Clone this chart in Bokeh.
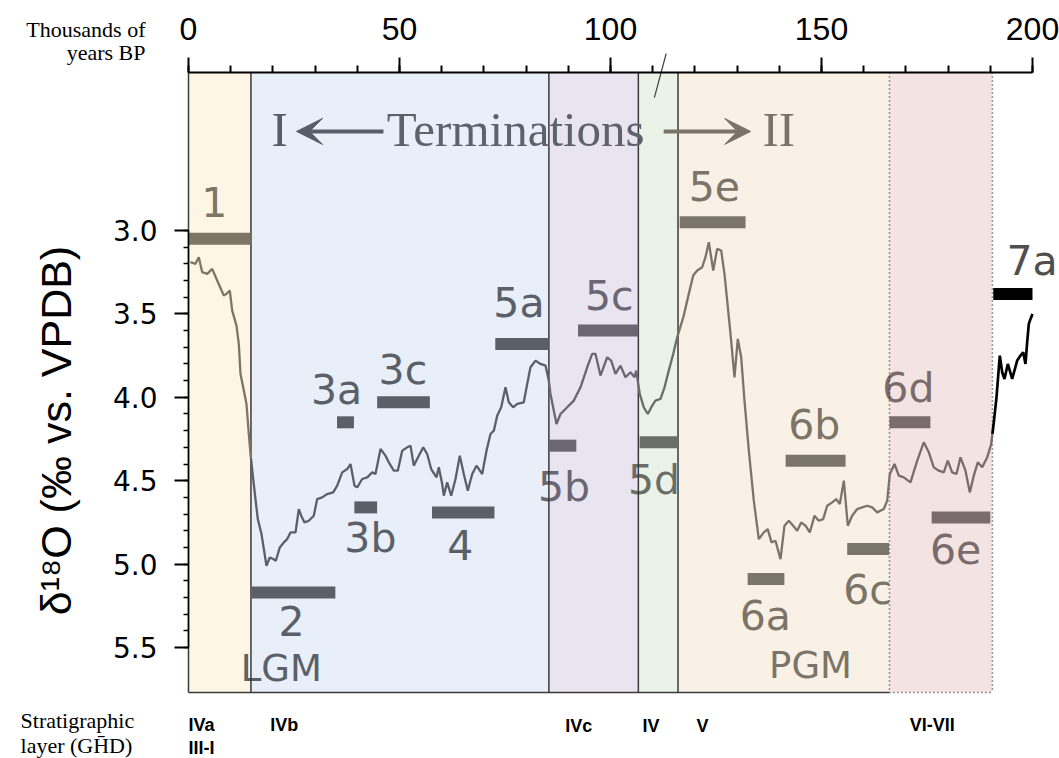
import numpy as np
from bokeh.plotting import figure
from bokeh.models import (Range1d, FixedTicker, PrintfTickFormatter, Label, Arrow, VeeHead,
                          LinearAxis)
from bokeh.core.properties import value
from bokeh.embed import file_html
from bokeh.resources import INLINE

# ---------------- data ----------------
# benthic d18O record (age in ka BP, d18O permil vs VPDB)
age_ka = [0.47, 1.66, 2.44, 3.25, 4.43, 5.62, 6.80, 8.36, 9.00, 9.79,
          10.36, 11.37, 11.92, 12.32, 12.96, 13.74, 14.29, 14.69, 15.64, 16.42,
          17.30, 18.48, 19.27, 20.07, 20.69, 21.64, 22.58, 23.39, 24.17, 25.36,
          26.14, 26.71, 27.49, 28.51, 29.69, 30.50, 31.68, 32.87, 34.29, 35.24,
          36.42, 37.61, 38.39, 39.34, 39.98, 41.16, 42.35, 43.53, 44.31, 45.50,
          46.68, 47.46, 48.65, 49.60, 50.64, 51.82, 52.61, 53.39, 54.57, 55.62,
          56.56, 57.51, 58.77, 59.31, 60.12, 60.50, 61.30, 62.25, 63.27, 64.29,
          65.24, 66.18, 67.23, 68.25, 69.60, 70.62, 71.56, 72.35, 73.15, 74.10,
          75.12, 75.90, 76.94, 77.89, 79.45, 80.26, 81.04, 82.23, 83.41, 84.60,
          85.38, 85.78, 87.20, 88.15, 89.74, 91.30, 92.89, 94.48, 95.66, 96.45,
          97.63, 99.22, 100.17, 101.18, 102.37, 103.55, 104.74, 105.69, 106.09, 106.94,
          107.89, 108.84, 109.88, 110.66, 111.85, 112.80, 113.81, 114.86, 115.81, 117.37,
          118.55, 119.60, 120.55, 121.73, 122.51, 123.30, 124.34, 125.28, 126.23, 127.01,
          127.65, 128.44, 129.38, 130.17, 130.97, 131.75, 132.78, 133.96, 135.14, 136.33,
          137.27, 138.15, 139.10, 140.28, 141.23, 142.25, 143.29, 144.24, 145.19, 146.21,
          147.23, 148.34, 149.36, 150.40, 151.35, 152.54, 153.48, 154.34, 155.29, 156.24,
          157.27, 158.46, 159.64, 160.83, 162.01, 163.20, 164.76, 165.57, 166.19, 167.30,
          168.32, 169.50, 171.09, 172.68, 174.24, 175.43, 176.61, 177.80, 178.98, 179.93,
          180.97, 181.99, 182.94, 184.12, 185.14, 186.09, 187.04, 188.08, 189.27, 190.21,
          190.83, 191.47, 192.25, 192.82, 193.36, 194.15, 195.19, 196.37, 197.16, 197.80,
          198.34, 198.74, 199.13, 199.53, 200.0]
d18o_permil = [3.19, 3.20, 3.16, 3.25, 3.26, 3.23, 3.30, 3.39, 3.38, 3.36,
               3.48, 3.57, 3.68, 3.86, 3.94, 4.04, 4.22, 4.34, 4.56, 4.73,
               4.82, 5.01, 4.96, 4.97, 4.98, 4.90, 4.87, 4.85, 4.81, 4.81,
               4.67, 4.71, 4.75, 4.74, 4.71, 4.61, 4.60, 4.58, 4.57, 4.53,
               4.45, 4.43, 4.40, 4.53, 4.54, 4.49, 4.48, 4.45, 4.46, 4.31,
               4.35, 4.39, 4.44, 4.44, 4.32, 4.30, 4.29, 4.41, 4.35, 4.30,
               4.34, 4.43, 4.48, 4.42, 4.52, 4.59, 4.51, 4.59, 4.49, 4.35,
               4.46, 4.56, 4.46, 4.41, 4.46, 4.32, 4.22, 4.20, 4.11, 4.06,
               3.94, 4.03, 4.06, 4.04, 4.03, 3.92, 3.82, 3.78, 3.80, 3.81,
               3.90, 3.98, 4.16, 4.10, 4.06, 4.02, 3.94, 3.82, 3.74, 3.74,
               3.87, 3.76, 3.78, 3.86, 3.81, 3.88, 3.85, 3.88, 3.84, 3.98,
               4.06, 4.10, 4.05, 4.02, 4.01, 3.94, 3.84, 3.74, 3.64, 3.51,
               3.38, 3.27, 3.24, 3.22, 3.16, 3.07, 3.24, 3.11, 3.12, 3.26,
               3.42, 3.62, 3.88, 3.65, 3.76, 4.02, 4.32, 4.62, 4.85, 4.81,
               4.79, 4.87, 4.86, 4.97, 4.77, 4.74, 4.77, 4.80, 4.75, 4.77,
               4.81, 4.71, 4.74, 4.73, 4.65, 4.63, 4.61, 4.64, 4.50, 4.77,
               4.71, 4.67, 4.66, 4.65, 4.66, 4.69, 4.67, 4.62, 4.46, 4.40,
               4.47, 4.48, 4.51, 4.38, 4.27, 4.33, 4.42, 4.44, 4.45, 4.38,
               4.45, 4.46, 4.36, 4.44, 4.57, 4.47, 4.39, 4.42, 4.36, 4.28,
               4.15, 4.00, 3.75, 3.85, 3.89, 3.80, 3.89, 3.78, 3.75, 3.73,
               3.80, 3.67, 3.56, 3.53, 3.50]

# marine isotope (sub)stages: time span and reference d18O level
stage_names = ["1", "2", "3a", "3b", "3c", "4", "5a", "5b", "5c", "5d",
               "5e", "6a", "6b", "6c", "6d", "6e", "7a"]
stage_start_ka = [0.0, 14.85, 35.2, 39.3, 44.7, 57.7, 72.7, 85.4, 92.3, 106.9,
                  116.4, 132.5, 141.5, 156.1, 166.1, 176.1, 190.7]
stage_end_ka = [14.7, 34.8, 39.2, 44.7, 57.2, 72.5, 85.4, 91.9, 106.6, 115.8,
                132.0, 141.2, 155.7, 166.0, 175.8, 190.0, 200.0]
stage_d18o = [3.05, 5.17, 4.15, 4.66, 4.03, 4.69, 3.68, 4.29, 3.60, 4.27,
              2.95, 5.09, 4.38, 4.91, 4.15, 4.72, 3.38]

# stratigraphic layers (GHD) as shaded time intervals
layer_start_ka = [0.0, 14.8, 85.4, 106.6, 116.0, 166.1]
layer_end_ka = [14.8, 85.4, 106.6, 116.0, 166.1, 190.5]
layer_names = ["IVa", "III-I", "IVb", "IVc", "IV", "V", "VI-VII"]

age_ticks = [0, 50, 100, 150, 200]
d18o_ticks = [3.0, 3.5, 4.0, 4.5, 5.0, 5.5]

# ---------------- styling / placement ----------------
band_fill = ["#fef6e4", "#e8eff8", "#e8e4f0", "#ebf2e8", "#f9f1e6", "#f3e3e3"]
band_ink = ["#7d7565", "#5b6068", "#6a6672", "#6a6e68", "#7b7468", "#7a6b6c"]
band_edge_dash = ["solid", "solid", "solid", "solid", "solid", "1 3", "1 3"]

# label anchors (text centre)
stage_label_x = [6.1, 24.4, 35.1, 43.1, 50.8, 64.4, 78.3, 89.0, 99.7, 110.3,
                 124.6, 136.7, 148.3, 160.9, 170.6, 181.8, 199.9]
stage_label_y = [2.829, 5.341, 3.959, 4.843, 3.839, 4.887, 3.435, 4.535, 3.395, 4.493,
                 2.735, 5.311, 4.169, 5.158, 3.947, 4.912, 3.185]

glacial_names = ["LGM", "PGM"]
glacial_x = [22.0, 147.4]
glacial_y = [5.623, 5.608]
glacial_band = [1, 4]

layer_label_x = [0.0, 0.0, 19.4, 89.3, 107.6, 120.4, 170.9]
layer_label_y = [5.965, 6.100, 5.965, 5.971, 5.971, 5.971, 5.962]

# plotting area spans the whole canvas; axes sit at fixed positions inside it
X_MIN, X_MAX = -44.55, 206.40
Y_CANVAS_TOP, Y_CANVAS_BOT = 1.6211, 6.1655
Y_TOP = 2.053       # upper edge of the record panel (age axis)
FRAME_BOT = 5.770   # lower edge of the record panel

p = figure(width=1059, height=758,
           x_range=Range1d(X_MIN, X_MAX), y_range=Range1d(Y_CANVAS_BOT, Y_CANVAS_TOP),
           x_axis_location=None, y_axis_location=None,
           output_backend="svg", toolbar_location=None,
           min_border_left=0, min_border_right=0, min_border_top=0, min_border_bottom=0)
p.outline_line_color = None
p.grid.visible = False
p.background_fill_color = "white"
p.border_fill_color = "white"

# top age axis
xa = LinearAxis(fixed_location=Y_TOP)
xa.ticker = FixedTicker(ticks=age_ticks, minor_ticks=list(range(0, 201, 10)))
xa.bounds = (0, 200)
xa.axis_line_color = "black"
xa.axis_line_width = 2
xa.major_tick_line_color = "black"
xa.major_tick_line_width = 2
xa.major_tick_out = 15
xa.major_tick_in = 0
xa.minor_tick_line_color = "black"
xa.minor_tick_line_width = 2
xa.minor_tick_out = 7
xa.minor_tick_in = 0
xa.major_label_text_font = "Liberation Sans"
xa.major_label_text_font_size = "32px"
xa.major_label_text_color = "black"
xa.major_label_standoff = 18

# left d18O axis
ya = LinearAxis(fixed_location=0)
ya.ticker = FixedTicker(ticks=d18o_ticks,
                        minor_ticks=[round(3.0 + 0.1 * i, 1) for i in range(26)])
ya.bounds = (3.0, 5.5)
ya.formatter = PrintfTickFormatter(format="%.1f")
ya.axis_line_color = "black"
ya.axis_line_width = 1.5
ya.major_tick_line_color = "black"
ya.major_tick_line_width = 2
ya.major_tick_out = 14
ya.major_tick_in = 0
ya.minor_tick_line_color = "black"
ya.minor_tick_line_width = 1.5
ya.minor_tick_out = 5
ya.minor_tick_in = 0
ya.major_label_text_font = "DejaVu Sans"
ya.major_label_text_font_size = "28px"
ya.major_label_text_color = "black"
ya.major_label_standoff = 17

LABEL_FONT = value("DejaVu Sans")


def band_of(t):
    for i, (a, b) in enumerate(zip(layer_start_ka, layer_end_ka)):
        if a <= t < b:
            return i
    return len(layer_start_ka)


stage_mid = [(a + b) / 2 for a, b in zip(stage_start_ka, stage_end_ka)]
stage_band = [band_of(m) for m in stage_mid]
stage_color = [band_ink[b] if b < len(band_ink) else "#000000" for b in stage_band]
stage_text_color = [band_ink[b] if b < len(band_ink) else "#4f4f4f" for b in stage_band]


def stage_text(idx):
    if not idx:
        return
    p.text(x=[stage_label_x[k] for k in idx], y=[stage_label_y[k] for k in idx],
           text=[stage_names[k] for k in idx], text_font=LABEL_FONT,
           text_font_size=value("41px"), text_color=[stage_text_color[k] for k in idx],
           text_align="center", text_baseline="middle")


# shaded layers, each followed by the stage names that sit in it
for i in range(len(layer_start_ka)):
    p.quad(left=[layer_start_ka[i]], right=[layer_end_ka[i]], top=[Y_TOP], bottom=[FRAME_BOT],
           fill_color=band_fill[i], line_color=None)
    stage_text([k for k, b in enumerate(stage_band) if b == i])
    for g, gb in enumerate(glacial_band):
        if gb == i:
            p.text(x=[glacial_x[g]], y=[glacial_y[g]], text=[glacial_names[g]],
                   text_font=LABEL_FONT, text_font_size=value("37px"),
                   text_color=band_ink[i], text_align="center", text_baseline="middle")
stage_text([k for k, b in enumerate(stage_band) if b >= len(layer_start_ka)])

# layer boundaries
edges = [layer_start_ka[0]] + layer_end_ka
for e, dash in zip(edges, band_edge_dash):
    p.segment(x0=[e], y0=[Y_TOP], x1=[e], y1=[FRAME_BOT], line_color="#3a3a3a",
              line_width=1.5, line_dash=dash)
p.segment(x0=[layer_start_ka[0]], y0=[FRAME_BOT], x1=[layer_start_ka[-1]], y1=[FRAME_BOT],
          line_color="#3a3a3a", line_width=1.5)
p.segment(x0=[layer_start_ka[-1]], y0=[FRAME_BOT], x1=[layer_end_ka[-1]], y1=[FRAME_BOT],
          line_color="#3a3a3a", line_width=1.5, line_dash="1 3")

# stage reference bars
p.segment(x0=stage_start_ka, y0=stage_d18o, x1=stage_end_ka, y1=stage_d18o,
          line_color=stage_color, line_width=12, line_cap="butt")

# d18O curve, coloured by the layer it passes through
age = np.array(age_ka)
d18o = np.array(d18o_permil)
cuts = edges + [age[-1]]
seg_colors = band_ink + ["#000000"]
for k in range(len(cuts) - 1):
    a, b = max(cuts[k], age[0]), min(cuts[k + 1], age[-1])
    inside = (age > a) & (age < b)
    xs = [a] + list(age[inside]) + [b]
    ys = [float(np.interp(a, age, d18o))] + list(d18o[inside]) + [float(np.interp(b, age, d18o))]
    p.line(xs, ys, line_color=seg_colors[k], line_width=2.7 if k == len(cuts) - 2 else 2.3)

# axes go on top of the shading
p.add_layout(xa, "above")
p.add_layout(ya, "left")

# axis break mark
p.segment(x0=[110.4], y0=[2.203], x1=[113.2], y1=[1.939], line_color="#404040", line_width=1.2)

# terminations
term_y = 2.406
p.add_layout(Arrow(end=VeeHead(size=26, fill_color="#585e67", line_color="#585e67"),
                   x_start=46.2, y_start=term_y, x_end=25.6, y_end=term_y,
                   line_color="#585e67", line_width=4))
p.add_layout(Arrow(end=VeeHead(size=26, fill_color="#7a7468", line_color="#7a7468"),
                   x_start=112.6, y_start=term_y, x_end=133.2, y_end=term_y,
                   line_color="#7a7468", line_width=4))
for txt, x, align, col in [("I", 21.6, "center", "#585e67"),
                           ("Terminations", 47.0, "left", "#5e626b"),
                           ("II", 136.0, "left", "#7a7468")]:
    p.add_layout(Label(x=x, y=2.394, text=txt, text_font="Liberation Serif",
                       text_font_size="49px", text_color=col, text_align=align,
                       text_baseline="middle"))

# d18O axis title
p.add_layout(Label(x=-31.5, y=4.199, text="δ¹⁸O (‰ vs. VPDB)", angle=np.pi / 2,
                   text_font="Liberation Sans", text_font_size="43px", text_color="black",
                   text_align="center", text_baseline="middle"))

# side captions
for txt, y in [("Thousands of", 1.797), ("years BP", 1.935)]:
    p.add_layout(Label(x=-10.2, y=y, text=txt, text_font="Liberation Serif",
                       text_font_size="22px", text_color="black", text_align="right",
                       text_baseline="middle"))
for txt, y in [("Stratigraphic", 5.938), ("layer (GH\u0304D)", 6.088)]:
    p.add_layout(Label(x=-39.8, y=y, text=txt, text_font="Liberation Serif",
                       text_font_size="22px", text_color="black", text_align="left",
                       text_baseline="middle"))
for txt, x, y in zip(layer_names, layer_label_x, layer_label_y):
    p.add_layout(Label(x=x, y=y, text=txt, text_font="Liberation Sans",
                       text_font_size="18px", text_font_style="bold", text_color="black",
                       text_align="left", text_baseline="middle"))

open("out.html", "w").write(file_html(p, INLINE))
